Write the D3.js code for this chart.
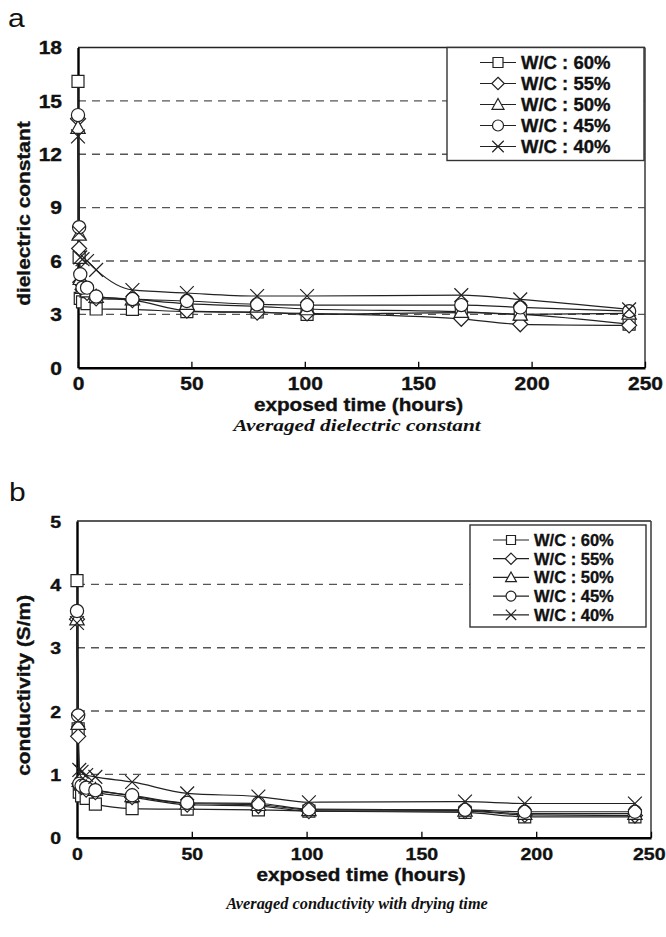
<!DOCTYPE html>
<html>
<head>
<meta charset="utf-8">
<script src="https://cdn.jsdelivr.net/npm/d3@7"></script>
<style>
body { margin: 0; background: #fff; }
svg { display: block; font-family: "Liberation Sans", Arial, sans-serif; }
</style>
</head>
<body>
<svg id="svg"></svg>
<script>
var width = 666, height = 937;

// exposed time (hours)
var hours = [0, 0.5, 1, 2, 4, 8, 24, 48, 79, 101, 169, 195, 243];
var seriesNames = ["W/C : 60%", "W/C : 55%", "W/C : 50%", "W/C : 45%", "W/C : 40%"];
var markerTypes = ["square", "diamond", "triangle", "circle", "cross"];

// (a) averaged dielectric constant
var diel60 = [16.1, 6.2, 3.9, 3.7, 3.6, 3.3, 3.28, 3.15, 3.13, 3.0, 3.1, 3.0, 2.45];
var diel55 = [14.0, 6.7, 4.8, 4.4, 4.2, 3.9, 3.8, 3.2, 3.1, 3.05, 2.75, 2.44, 2.38];
var diel50 = [13.5, 7.5, 5.0, 4.5, 4.3, 4.0, 3.85, 3.6, 3.45, 3.3, 3.15, 3.0, 3.05];
var diel45 = [14.2, 7.9, 5.25, 4.5, 4.5, 4.0, 3.86, 3.75, 3.56, 3.52, 3.52, 3.39, 3.18];
var diel40 = [13.0, 7.6, 6.2, 6.1, 6.0, 5.5, 4.37, 4.2, 4.03, 4.03, 4.08, 3.84, 3.28];
var dielTicks = [0, 3, 6, 9, 12, 15, 18];

// (b) averaged conductivity (S/m)
var cond60 = [4.06, 1.72, 0.72, 0.66, 0.62, 0.53, 0.46, 0.45, 0.44, 0.42, 0.40, 0.33, 0.33];
var cond55 = [3.45, 1.6, 0.85, 0.8, 0.76, 0.72, 0.64, 0.52, 0.5, 0.42, 0.42, 0.36, 0.35];
var cond50 = [3.45, 1.8, 0.9, 0.84, 0.8, 0.76, 0.66, 0.54, 0.52, 0.44, 0.43, 0.38, 0.38];
var cond45 = [3.58, 1.93, 0.85, 0.82, 0.79, 0.75, 0.67, 0.55, 0.54, 0.45, 0.44, 0.41, 0.41];
var cond40 = [3.39, 1.85, 1.07, 1.04, 0.99, 0.96, 0.88, 0.70, 0.65, 0.56, 0.57, 0.54, 0.54];
var condTicks = [0, 1, 2, 3, 4, 5];

var xTicks = [0, 50, 100, 150, 200, 250];

var svg = d3.select("#svg")
	.attr("width", width)
	.attr("height", height);

function markerPath(type, s)
{
	if (type == "square") return "M" + (-s) + "," + (-s) + "h" + (2*s) + "v" + (2*s) + "h" + (-2*s) + "Z";
	if (type == "diamond") { var d = s * 1.25; return "M0," + (-d) + "L" + d + ",0L0," + d + "L" + (-d) + ",0Z"; }
	if (type == "triangle") { var t = s * 1.2; return "M0," + (-t) + "L" + t + "," + (t*0.8) + "L" + (-t) + "," + (t*0.8) + "Z"; }
	if (type == "circle") { var r = s * 1.1; return "M" + r + ",0A" + r + "," + r + " 0 1,1 " + (-r) + ",0A" + r + "," + r + " 0 1,1 " + r + ",0Z"; }
	var c = s * 1.15;
	return "M" + (-c) + "," + (-c) + "L" + c + "," + c + "M" + (-c) + "," + c + "L" + c + "," + (-c);
}

// text the reference shows a little wider than the font: stretch it sideways
function label(parent, x, y, str, opt)
{
	var g = parent.append("g")
		.attr("transform", "translate(" + x + "," + y + ")" + (opt.rotate ? " rotate(-90)" : "") + " scale(" + (opt.sx || 1) + ",1)");
	var t = g.append("text")
		.attr("text-anchor", opt.anchor || "middle")
		.style("font-family", opt.family || "'Liberation Sans', Arial, sans-serif")
		.style("font-size", opt.fs + "px")
		.style("font-weight", opt.weight || "bold")
		.style("font-style", opt.italic ? "italic" : "normal")
		.attr("fill", "#111")
		.text(str);
	if (opt.heavy) t.attr("stroke", "#111").attr("stroke-width", 0.35);
	return t;
}

function plot(cfg)
{
	var x = d3.scaleLinear().domain([0, 250]).range([cfg.left, cfg.right]);
	var y = d3.scaleLinear().domain([0, cfg.yMax]).range([cfg.bottom, cfg.top]);
	var g = svg.append("g");

	// dashed grid
	g.selectAll(".grid")
		.data(cfg.yTicks.filter(function(d) { return d > 0 && d < cfg.yMax; }))
		.enter()
		.append("line")
		.attr("x1", cfg.left).attr("x2", cfg.right)
		.attr("y1", function(d) { return y(d); })
		.attr("y2", function(d) { return y(d); })
		.attr("stroke", "#555")
		.attr("stroke-width", 1.4)
		.attr("stroke-dasharray", "8,6");

	// frame
	g.append("line").attr("x1", cfg.left).attr("x2", cfg.right).attr("y1", cfg.top).attr("y2", cfg.top)
		.attr("stroke", "#222").attr("stroke-width", 1.6);
	g.append("line").attr("x1", cfg.right).attr("x2", cfg.right).attr("y1", cfg.top).attr("y2", cfg.bottom)
		.attr("stroke", "#444").attr("stroke-width", 1.6);

	// axes
	var xAxis = d3.axisBottom(x).tickValues(xTicks).tickSizeInner(-6).tickSizeOuter(0).tickPadding(10)
		.tickFormat(d3.format("d"));
	var yAxis = d3.axisLeft(y).tickValues(cfg.yTicks).tickSize(0).tickPadding(16 / cfg.tickSx)
		.tickFormat(d3.format("d"));

	var xa = g.append("g")
		.attr("transform", "translate(0," + cfg.bottom + ")")
		.call(xAxis);
	var ya = g.append("g")
		.attr("transform", "translate(" + cfg.left + ",0)")
		.call(yAxis);
	[xa, ya].forEach(function(a) {
		a.select(".domain").attr("stroke", "#000").attr("stroke-width", 2.4);
		a.selectAll(".tick line").attr("stroke", "#000").attr("stroke-width", 1.3);
		a.selectAll("text")
			.attr("fill", "#111")
			.attr("stroke", "#111")
			.attr("stroke-width", 0.35)
			.attr("transform", "scale(" + cfg.tickSx + ",1)")
			.style("font-size", cfg.tickFs + "px")
			.style("font-weight", "bold")
			.style("font-family", "'Liberation Sans', Arial, sans-serif");
	});
	ya.selectAll(".tick text").attr("dy", "0.36em");

	// keep the last x label inside the page
	xa.selectAll(".tick text").each(function(d) {
		var half = this.getComputedTextLength() * cfg.tickSx / 2;
		var over = x(d) + half - (width - 1);
		if (over > 0) d3.select(this).attr("dx", -over / cfg.tickSx);
	});

	// titles
	label(g, (cfg.left + cfg.right) / 2 - 3, cfg.bottom + 43, "exposed time (hours)", { fs: 18, sx: 1.15, heavy: true });
	label(g, 30, (cfg.top + cfg.bottom) / 2 + 6, cfg.yTitle, { fs: 18, sx: 1.16, rotate: true, heavy: true });
	label(g, cfg.letterX, cfg.letterY, cfg.letter, { fs: 25, sx: 1.2, anchor: "start", weight: "normal" });
	label(g, 357, cfg.captionY, cfg.caption, {
		fs: cfg.capFs, sx: cfg.capSx, italic: true,
		family: "'Liberation Serif', 'Times New Roman', serif"
	});

	// series
	var line = d3.line()
		.x(function(d, i) { return x(hours[i]); })
		.y(function(d) { return y(d); })
		.curve(d3.curveMonotoneX);

	cfg.series.forEach(function(vals, k) {
		g.append("path")
			.attr("d", line(vals))
			.attr("fill", "none")
			.attr("stroke", "#222")
			.attr("stroke-width", 1.2);
	});
	cfg.series.forEach(function(vals, k) {
		g.selectAll(".m" + k)
			.data(vals)
			.enter()
			.append("path")
			.attr("class", "m" + k)
			.attr("transform", function(d, i) { return "translate(" + x(hours[i]) + "," + y(d) + ")"; })
			.attr("d", markerPath(markerTypes[k], 6))
			.attr("fill", markerTypes[k] == "cross" ? "none" : "#fff")
			.attr("stroke", "#222")
			.attr("stroke-width", 1.2);
	});

	// legend
	var lg = g.append("g");
	lg.append("rect")
		.attr("x", cfg.legend.x).attr("y", cfg.legend.y)
		.attr("width", cfg.legend.w).attr("height", cfg.legend.h)
		.attr("fill", "#fff").attr("stroke", "#333").attr("stroke-width", 1.4);
	var row = lg.selectAll(".row")
		.data(seriesNames)
		.enter()
		.append("g")
		.attr("transform", function(d, i) {
			return "translate(" + cfg.legend.sx + "," + (cfg.legend.y0 + i * cfg.legend.dy) + ")";
		});
	row.append("line")
		.attr("x1", -18).attr("x2", 18).attr("y1", 0).attr("y2", 0)
		.attr("stroke", "#222").attr("stroke-width", 1.2);
	row.append("path")
		.attr("d", function(d, i) { return markerPath(markerTypes[i], cfg.legend.ms); })
		.attr("fill", function(d, i) { return markerTypes[i] == "cross" ? "none" : "#fff"; })
		.attr("stroke", "#222").attr("stroke-width", 1.2);
	row.append("text")
		.attr("x", 23)
		.attr("dy", "0.36em")
		.attr("stroke", "#111").attr("stroke-width", 0.35)
		.style("font-size", cfg.legend.fs + "px").style("font-weight", "bold")
		.attr("fill", "#111")
		.text(function(d) { return d; });
}

plot({
	left: 78, right: 645, top: 47.5, bottom: 367.7, yMax: 18, yTicks: dielTicks,
	tickFs: 17.5, tickSx: 1.2,
	yTitle: "dielectric constant", letter: "a", letterX: 8, letterY: 27,
	caption: "Averaged dielectric constant", captionY: 431, capFs: 17.5, capSx: 1.22,
	series: [diel60, diel55, diel50, diel45, diel40],
	legend: { x: 447, y: 47.5, w: 197, h: 113, sx: 498, y0: 62.5, dy: 21, ms: 5, fs: 18.5 }
});

plot({
	left: 77, right: 651, top: 521, bottom: 837.7, yMax: 5, yTicks: condTicks,
	tickFs: 17, tickSx: 1.15,
	yTitle: "conductivity (S/m)", letter: "b", letterX: 9, letterY: 501,
	caption: "Averaged conductivity with drying time", captionY: 909, capFs: 16, capSx: 1.02,
	series: [cond60, cond55, cond50, cond45, cond40],
	legend: { x: 470, y: 525, w: 176, h: 102, sx: 511, y0: 540, dy: 18.7, ms: 4.5, fs: 16.5 }
});
</script>
</body>
</html>
